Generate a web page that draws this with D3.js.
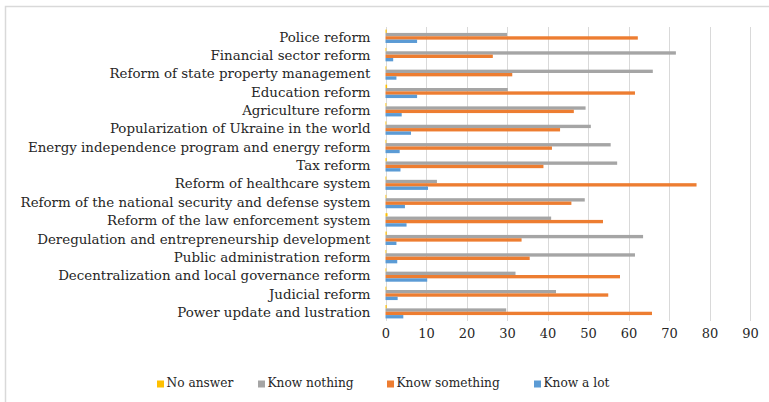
<!DOCTYPE html>
<html>
<head>
<meta charset="utf-8">
<script src="https://cdn.jsdelivr.net/npm/d3@7/dist/d3.min.js"></script>
<style>
  body { margin: 0; background: #fff; }
  svg { display: block; }
  text { font-family: "DejaVu Serif", serif; fill: #262626; }
</style>
</head>
<body>
<svg id="chart" width="769" height="402"></svg>
<script>
const categories = [
  "Police reform",
  "Financial sector reform",
  "Reform of state property management",
  "Education reform",
  "Agriculture reform",
  "Popularization of Ukraine in the world",
  "Energy independence program and energy reform",
  "Tax reform",
  "Reform of healthcare system",
  "Reform of the national security and defense system",
  "Reform of the law enforcement system",
  "Deregulation and entrepreneurship development",
  "Public administration reform",
  "Decentralization and local governance reform",
  "Judicial reform",
  "Power update and lustration"
];
const seriesNames = ["No answer", "Know nothing", "Know something", "Know a lot"];
const noAnswer      = [0.3, 0.2, 0.2, 0.4, 0.2, 0.2, 0.2, 0.3, 0.2, 0.2, 0.5, 0.3, 0.2, 0.2, 0.2, 0.3];
const knowNothing   = [30.0, 71.7, 66.0, 30.2, 49.4, 50.7, 55.6, 57.2, 12.7, 49.2, 40.9, 63.6, 61.6, 32.1, 42.1, 29.8];
const knowSomething = [62.3, 26.5, 31.3, 61.6, 46.5, 43.1, 41.1, 39.0, 76.8, 45.9, 53.7, 33.6, 35.6, 57.9, 55.0, 65.8];
const knowALot      = [7.8, 1.9, 2.7, 7.8, 4.0, 6.3, 3.5, 3.7, 10.5, 4.8, 5.2, 2.7, 2.9, 10.3, 3.0, 4.4];
const xTicks = [0, 10, 20, 30, 40, 50, 60, 70, 80, 90];
const colors = ["#ffc000", "#a5a5a5", "#ed7d31", "#5b9bd5"];

const seriesValues = [noAnswer, knowNothing, knowSomething, knowALot];
const svg = d3.select("#chart");

// outer border
svg.append("rect").attr("x", 5.5).attr("y", 6.5).attr("width", 800).attr("height", 500)
  .attr("fill", "none").attr("stroke", "#d9d9d9").attr("stroke-width", 1.5);

const plot = { left: 385.5, right: 750, top: 27, bottom: 321 };
const x = d3.scaleLinear().domain([0, 90]).range([plot.left, plot.right]);
const y = d3.scaleBand().domain(categories).range([plot.top, plot.bottom]).paddingInner(0.27).paddingOuter(0.14);
const ySub = d3.scaleBand().domain(seriesNames).range([0, y.bandwidth()]);

// gridlines
svg.append("g").selectAll("line").data(xTicks).join("line")
  .attr("x1", d => Math.round(x(d)) + 0.5).attr("x2", d => Math.round(x(d)) + 0.5)
  .attr("y1", plot.top).attr("y2", plot.bottom)
  .attr("stroke", "#d9d9d9").attr("stroke-width", 1);

// bars
const rows = [];
categories.forEach((c, i) => {
  seriesNames.forEach((s, j) => rows.push({ cat: c, series: s, value: seriesValues[j][i], color: colors[j] }));
});
svg.append("g").selectAll("rect").data(rows).join("rect")
  .attr("x", x(0))
  .attr("y", d => y(d.cat) + ySub(d.series))
  .attr("width", d => x(d.value) - x(0))
  .attr("height", ySub.bandwidth())
  .attr("fill", d => d.color);

// y axis labels
const yAxis = d3.axisLeft(y).tickSize(0).tickPadding(15);
const gy = svg.append("g").attr("transform", `translate(${plot.left},1)`).call(yAxis);
gy.select(".domain").remove();
gy.selectAll("text").style("font-family", '"DejaVu Serif", serif').attr("font-size", 13.4).attr("fill", "#262626");

// x axis labels
const xAxis = d3.axisBottom(x).tickValues(xTicks).tickSize(0).tickPadding(8);
const gx = svg.append("g").attr("transform", `translate(0,${plot.bottom})`).call(xAxis);
gx.select(".domain").remove();
gx.selectAll("text").style("font-family", '"DejaVu Serif", serif').attr("font-size", 13).attr("fill", "#262626");

// legend
const legendX = [157, 258, 387, 534];
const lg = svg.append("g").selectAll("g").data(seriesNames).join("g")
  .attr("transform", (d, i) => `translate(${legendX[i]},383)`);
lg.append("rect").attr("x", 0).attr("y", -2.5).attr("width", 7).attr("height", 7)
  .attr("fill", (d, i) => colors[i]);
lg.append("text").attr("x", 9.5).attr("y", 0).attr("dy", "0.35em")
  .attr("font-size", 12.2).text(d => d);
</script>
</body>
</html>
